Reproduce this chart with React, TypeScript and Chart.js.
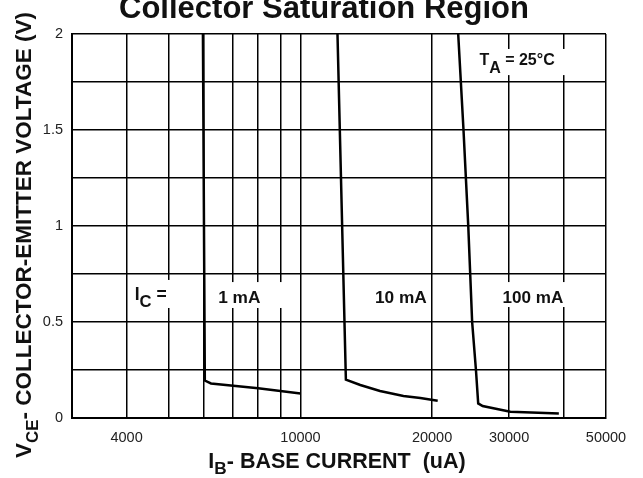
import { useEffect, useRef } from "react";
import { Chart, registerables } from "chart.js";

Chart.register(...registerables);

// ---------- data ----------
const xGridValues = [3000, 4000, 5000, 6000, 7000, 8000, 9000, 10000, 20000, 30000, 40000, 50000];
const xLabeledValues = [4000, 10000, 20000, 30000, 50000];
const yGridValues = [0, 0.25, 0.5, 0.75, 1, 1.25, 1.5, 1.75, 2];
const yLabeledValues = [0, 0.5, 1, 1.5, 2];

const ib1mA = [5980, 6040, 6240, 8000, 10000];
const vce1mA = [2.0, 0.195, 0.18, 0.155, 0.128];

const ib10mA = [12150, 12700, 13700, 15200, 17200, 18800, 20600];
const vce10mA = [2.0, 0.2, 0.172, 0.141, 0.115, 0.104, 0.09];

const ib100mA = [22950, 23600, 24200, 24700, 25200, 25500, 26100, 30200, 35000, 39000];
const vce100mA = [2.0, 1.5, 1.0, 0.5, 0.25, 0.076, 0.062, 0.033, 0.027, 0.024];

const FONT = '"Liberation Sans", Arial, Helvetica, sans-serif';

type Piece = { t: string; sub?: boolean };

type Note = {
  pieces: Piece[];
  x: number;
  y: number;
  size: number;
  subScale: number;
  subDrop: number;
  box: [number, number, number, number]; // xmin, xmax, ymin, ymax in data units
};

const notes: Note[] = [
  { pieces: [{ t: "I" }, { t: "C", sub: true }, { t: " =" }], x: 4175, y: 0.615, size: 17.5, subScale: 0.95, subDrop: 7, box: [4090, 5400, 0.573, 0.719] },
  { pieces: [{ t: "1 mA" }], x: 6480, y: 0.599, size: 17.3, subScale: 1, subDrop: 0, box: [6240, 9430, 0.573, 0.708] },
  { pieces: [{ t: "10 mA" }], x: 14800, y: 0.599, size: 17.3, subScale: 1, subDrop: 0, box: [14400, 19500, 0.573, 0.708] },
  { pieces: [{ t: "100 mA" }], x: 28970, y: 0.599, size: 17.1, subScale: 1, subDrop: 0, box: [27930, 41100, 0.578, 0.708] },
  { pieces: [{ t: "T" }, { t: "A", sub: true }, { t: " = 25°C" }], x: 25660, y: 1.839, size: 16, subScale: 1, subDrop: 8, box: [24460, 41500, 1.786, 1.922] },
];

function richWidth(ctx: CanvasRenderingContext2D, pieces: Piece[], size: number, subScale: number) {
  let w = 0;
  for (const p of pieces) {
    ctx.font = `bold ${p.sub ? size * subScale : size}px ${FONT}`;
    w += ctx.measureText(p.t).width;
  }
  return w;
}

function drawRich(ctx: CanvasRenderingContext2D, pieces: Piece[], x: number, y: number, size: number, subScale: number, subDrop: number) {
  let cx = x;
  ctx.textAlign = "left";
  ctx.textBaseline = "alphabetic";
  for (const p of pieces) {
    ctx.font = `bold ${p.sub ? size * subScale : size}px ${FONT}`;
    ctx.fillText(p.t, cx, p.sub ? y + subDrop : y);
    cx += ctx.measureText(p.t).width;
  }
  return cx - x;
}

const textPlugin = {
  id: "textPlugin",
  afterDatasetsDraw(chart: any) {
    const ctx: CanvasRenderingContext2D = chart.ctx;
    const xs = chart.scales.x;
    const ys = chart.scales.y;
    ctx.save();
    for (const n of notes) {
      const bx0 = xs.getPixelForValue(n.box[0]);
      const bx1 = xs.getPixelForValue(n.box[1]);
      const by0 = ys.getPixelForValue(n.box[3]);
      const by1 = ys.getPixelForValue(n.box[2]);
      ctx.fillStyle = "#fff";
      ctx.fillRect(bx0, by0, bx1 - bx0, by1 - by0);
      ctx.fillStyle = "#111";
      drawRich(ctx, n.pieces, xs.getPixelForValue(n.x), ys.getPixelForValue(n.y), n.size, n.subScale, n.subDrop);
    }
    ctx.restore();
  },
  afterDraw(chart: any) {
    const ctx: CanvasRenderingContext2D = chart.ctx;
    ctx.save();
    ctx.fillStyle = "#111";
    // main title (cropped at the top like the reference)
    ctx.font = `bold 31px ${FONT}`;
    ctx.textAlign = "center";
    ctx.textBaseline = "alphabetic";
    ctx.fillText("Collector Saturation Region", 324, 18);

    // x axis title
    const xp: Piece[] = [{ t: "I" }, { t: "B", sub: true }, { t: "- BASE CURRENT  (uA)" }];
    const xw = richWidth(ctx, xp, 21.5, 0.8);
    drawRich(ctx, xp, 337 - xw / 2, 468, 21.5, 0.8, 6);

    // y axis title
    const yp: Piece[] = [{ t: "V" }, { t: "CE", sub: true }, { t: "- COLLECTOR-EMITTER VOLTAGE (V)" }];
    const yw = richWidth(ctx, yp, 22.5, 0.75);
    ctx.translate(31, 235 + yw / 2);
    ctx.rotate(-Math.PI / 2);
    drawRich(ctx, yp, 0, 0, 22.5, 0.75, 7);
    ctx.restore();
  },
};

export default function App() {
  const ref = useRef<HTMLCanvasElement | null>(null);
  useEffect(() => {
    if (!ref.current) return;
    const mk = (xs: number[], ys: number[]) => xs.map((x, i) => ({ x, y: ys[i] }));
    const lineStyle = { borderColor: "#000", borderWidth: 2.5, pointRadius: 0, fill: false, tension: 0 };
    const chart = new Chart(ref.current, {
      type: "line",
      data: {
        datasets: [
          { label: "1 mA", data: mk(ib1mA, vce1mA), ...lineStyle },
          { label: "10 mA", data: mk(ib10mA, vce10mA), ...lineStyle },
          { label: "100 mA", data: mk(ib100mA, vce100mA), ...lineStyle },
        ],
      },
      options: {
        animation: false,
        responsive: false,
        devicePixelRatio: 1,
        layout: { padding: { top: 34, right: 37, left: 0, bottom: 0 } },
        plugins: { legend: { display: false }, title: { display: false }, tooltip: { enabled: false } },
        scales: {
          x: {
            type: "logarithmic",
            min: 3000,
            max: 50000,
            afterBuildTicks: (s: any) => {
              s.ticks = xGridValues.map((v) => ({ value: v }));
            },
            afterFit: (s: any) => {
              s.height = 60;
            },
            grid: { color: "#000", lineWidth: 1.5, drawTicks: false },
            border: { color: "#000", width: 2 },
            ticks: {
              autoSkip: false,
              maxRotation: 0,
              padding: 11,
              color: "#222",
              font: { family: FONT, size: 14.5 },
              callback: (v: any) => (xLabeledValues.includes(Number(v)) ? String(v) : ""),
            },
          },
          y: {
            type: "linear",
            min: 0,
            max: 2,
            afterBuildTicks: (s: any) => {
              s.ticks = yGridValues.map((v) => ({ value: v }));
            },
            afterFit: (s: any) => {
              s.width = 72;
            },
            grid: { color: "#000", lineWidth: 1.5, drawTicks: false },
            border: { color: "#000", width: 2 },
            ticks: {
              autoSkip: false,
              padding: 9,
              color: "#222",
              font: { family: FONT, size: 14.5 },
              callback: (v: any) => (yLabeledValues.includes(Number(v)) ? String(v) : ""),
            },
          },
        },
      },
      plugins: [textPlugin],
    });
    return () => chart.destroy();
  }, []);
  return (
    <div style={{ position: "fixed", left: 0, top: 0, width: 643, height: 478, background: "#fff" }}>
      <canvas ref={ref} width={643} height={478} style={{ display: "block" }} />
    </div>
  );
}
